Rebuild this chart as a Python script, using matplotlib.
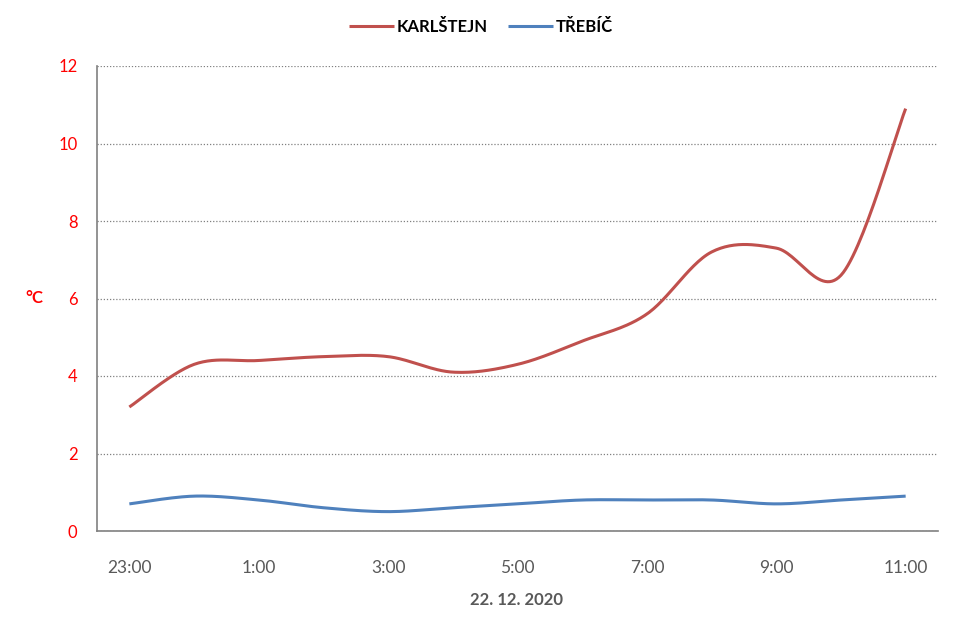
import matplotlib
matplotlib.use("Agg")
import matplotlib.pyplot as plt
import numpy as np

hours = ["23:00", "0:00", "1:00", "2:00", "3:00", "4:00", "5:00",
         "6:00", "7:00", "8:00", "9:00", "10:00", "11:00"]
karlstejn = [3.2, 4.3, 4.4, 4.5, 4.5, 4.1, 4.3, 4.9, 5.6, 7.2, 7.3, 6.6, 10.9]
trebic = [0.7, 0.9, 0.8, 0.6, 0.5, 0.6, 0.7, 0.8, 0.8, 0.8, 0.7, 0.8, 0.9]
tick_labels = ["23:00", "1:00", "3:00", "5:00", "7:00", "9:00", "11:00"]
yticks = [0, 2, 4, 6, 8, 10, 12]


def smooth(x, y, steps=30):
    """Catmull-Rom style smoothing like Excel's smoothed line."""
    x = np.asarray(x, float)
    y = np.asarray(y, float)
    px = np.concatenate([[x[0]], x, [x[-1]]])
    py = np.concatenate([[y[0]], y, [y[-1]]])
    xs, ys = [], []
    t = np.linspace(0, 1, steps)
    for i in range(1, len(px) - 2):
        p0 = np.array([px[i], py[i]])
        p3 = np.array([px[i + 1], py[i + 1]])
        p1 = p0 + (np.array([px[i + 1], py[i + 1]]) - np.array([px[i - 1], py[i - 1]])) / 6
        p2 = p3 - (np.array([px[i + 2], py[i + 2]]) - np.array([px[i], py[i]])) / 6
        b = ((1 - t) ** 3)[:, None] * p0 + (3 * (1 - t) ** 2 * t)[:, None] * p1 \
            + (3 * (1 - t) * t ** 2)[:, None] * p2 + (t ** 3)[:, None] * p3
        xs.extend(b[:, 0])
        ys.extend(b[:, 1])
    return np.array(xs), np.array(ys)


plt.rcParams["font.family"] = ["Lato", "DejaVu Sans"]

fig = plt.figure(figsize=(9.6, 6.35), dpi=100)
ax = fig.add_axes([97 / 960, 1 - 531 / 635, (938 - 97) / 960, (531 - 66) / 635])

x = np.arange(len(hours))
sx, sy = smooth(x, karlstejn)
ax.plot(sx, sy, color="#C0504D", lw=2.2, label="KARLŠTEJN", solid_capstyle="butt")
sx, sy = smooth(x, trebic)
ax.plot(sx, sy, color="#4F81BD", lw=2.2, label="TŘEBÍČ", solid_capstyle="butt")

ax.set_xlim(-0.5, len(hours) - 0.5)
ax.set_ylim(0, 12)
ax.set_yticks(yticks)
ax.set_yticklabels([str(v) for v in yticks], color="red", fontsize=12)
ax.set_xticks([hours.index(h) for h in tick_labels])
ax.set_xticklabels(tick_labels, color="#595959", fontsize=12.5)
ax.tick_params(axis="x", length=0, pad=21)
ax.tick_params(axis="y", length=0, pad=14)

ax.grid(True, axis="y", linestyle=(0, (1, 1.5)), color="#808080", lw=0.9)
ax.set_axisbelow(True)
for s in ["top", "right"]:
    ax.spines[s].set_visible(False)
for s in ["left", "bottom"]:
    ax.spines[s].set_color("#808080")
    ax.spines[s].set_linewidth(1.2)

fig.text(34 / 960, 1 - 298 / 635, "°C", color="red", fontsize=12,
         fontweight="bold", ha="center", va="center")
fig.text(517 / 960, 1 - 600 / 635, "22. 12. 2020", color="#595959", fontsize=12,
         fontweight="bold", ha="center", va="center")

fig.legend(loc="center", bbox_to_anchor=(481 / 960, 1 - 27 / 635), ncol=2,
           frameon=False, prop={"weight": "bold", "size": 12},
           handlelength=2.7, columnspacing=1.2, handletextpad=0.15)

fig.savefig("out.png", dpi=100)
